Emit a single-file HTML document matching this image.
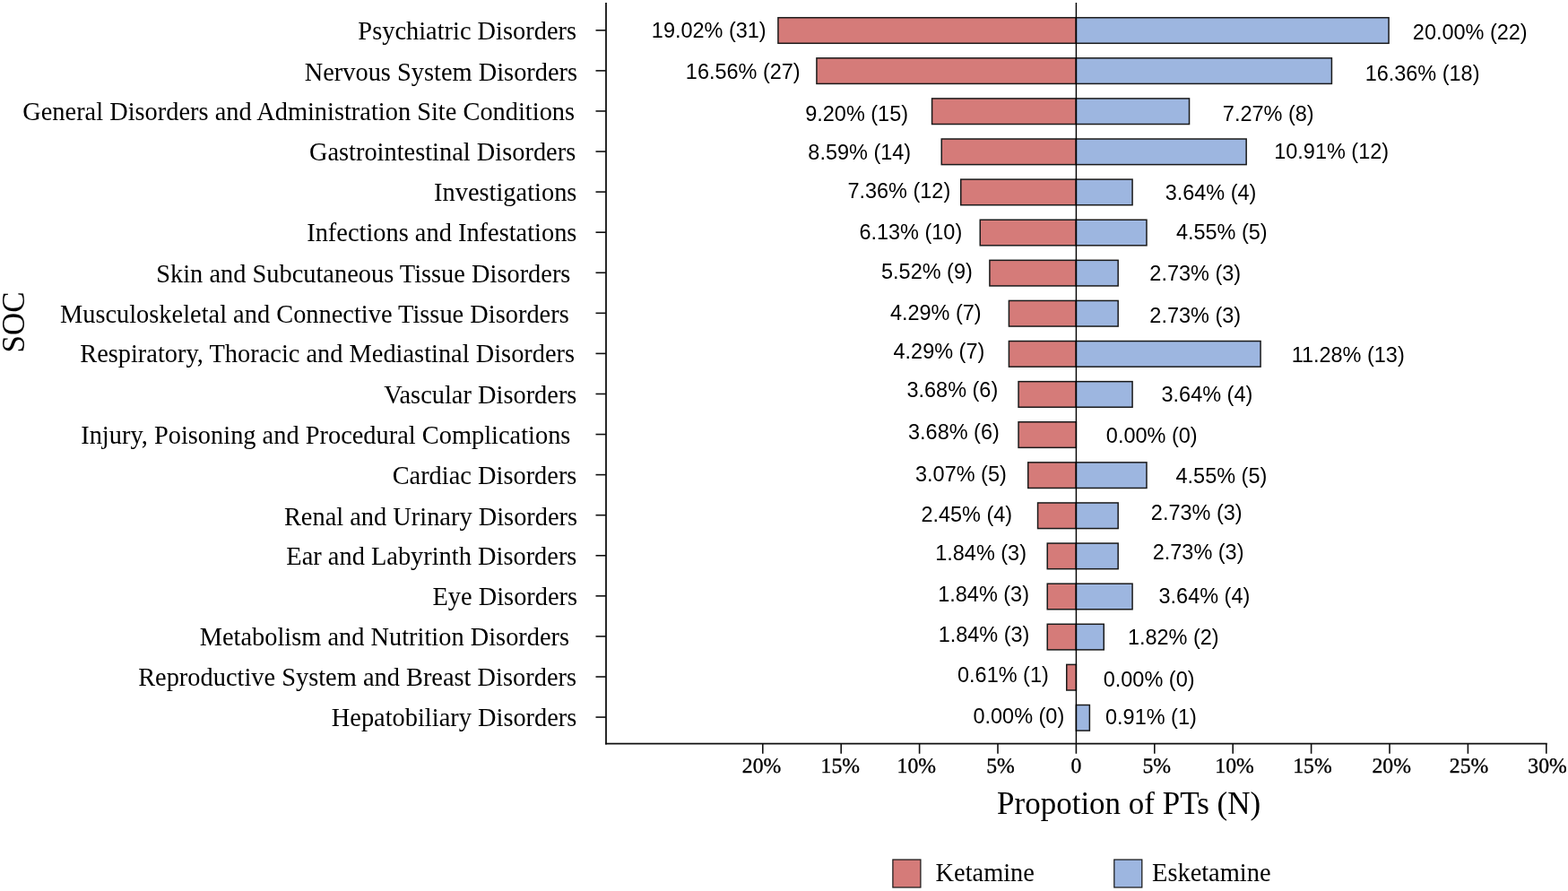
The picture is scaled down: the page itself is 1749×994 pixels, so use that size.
<!DOCTYPE html>
<html><head><meta charset="utf-8"><title>SOC chart</title>
<style>
html,body{margin:0;padding:0;background:#fff;}
body{width:1749px;height:994px;overflow:hidden;}
svg{display:block;}
text{fill:#000;}
.gp{text-rendering:geometricPrecision;}
.sa{font-family:"Liberation Sans",sans-serif;}
.se{font-family:"Liberation Serif",serif;}
</style></head>
<body>
<svg width="1749" height="994" viewBox="0 0 1749 994">
<rect x="0" y="0" width="1749" height="994" fill="#fff"/>
<rect x="867.93" y="19.70" width="332.47" height="28.6" fill="#D57B79" stroke="#1a1a1a" stroke-width="1.5"/>
<rect x="1200.40" y="19.70" width="348.65" height="28.6" fill="#9DB6E0" stroke="#1a1a1a" stroke-width="1.5"/>
<rect x="910.93" y="64.81" width="289.47" height="28.6" fill="#D57B79" stroke="#1a1a1a" stroke-width="1.5"/>
<rect x="1200.40" y="64.81" width="285.02" height="28.6" fill="#9DB6E0" stroke="#1a1a1a" stroke-width="1.5"/>
<rect x="1039.58" y="109.91" width="160.82" height="28.6" fill="#D57B79" stroke="#1a1a1a" stroke-width="1.5"/>
<rect x="1200.40" y="109.91" width="126.13" height="28.6" fill="#9DB6E0" stroke="#1a1a1a" stroke-width="1.5"/>
<rect x="1050.25" y="155.02" width="150.15" height="28.6" fill="#D57B79" stroke="#1a1a1a" stroke-width="1.5"/>
<rect x="1200.40" y="155.02" width="189.76" height="28.6" fill="#9DB6E0" stroke="#1a1a1a" stroke-width="1.5"/>
<rect x="1071.75" y="200.12" width="128.65" height="28.6" fill="#D57B79" stroke="#1a1a1a" stroke-width="1.5"/>
<rect x="1200.40" y="200.12" width="62.68" height="28.6" fill="#9DB6E0" stroke="#1a1a1a" stroke-width="1.5"/>
<rect x="1093.25" y="245.23" width="107.15" height="28.6" fill="#D57B79" stroke="#1a1a1a" stroke-width="1.5"/>
<rect x="1200.40" y="245.23" width="78.58" height="28.6" fill="#9DB6E0" stroke="#1a1a1a" stroke-width="1.5"/>
<rect x="1103.91" y="290.34" width="96.49" height="28.6" fill="#D57B79" stroke="#1a1a1a" stroke-width="1.5"/>
<rect x="1200.40" y="290.34" width="46.77" height="28.6" fill="#9DB6E0" stroke="#1a1a1a" stroke-width="1.5"/>
<rect x="1125.41" y="335.44" width="74.99" height="28.6" fill="#D57B79" stroke="#1a1a1a" stroke-width="1.5"/>
<rect x="1200.40" y="335.44" width="46.77" height="28.6" fill="#9DB6E0" stroke="#1a1a1a" stroke-width="1.5"/>
<rect x="1125.41" y="380.55" width="74.99" height="28.6" fill="#D57B79" stroke="#1a1a1a" stroke-width="1.5"/>
<rect x="1200.40" y="380.55" width="205.66" height="28.6" fill="#9DB6E0" stroke="#1a1a1a" stroke-width="1.5"/>
<rect x="1136.07" y="425.65" width="64.33" height="28.6" fill="#D57B79" stroke="#1a1a1a" stroke-width="1.5"/>
<rect x="1200.40" y="425.65" width="62.68" height="28.6" fill="#9DB6E0" stroke="#1a1a1a" stroke-width="1.5"/>
<rect x="1136.07" y="470.76" width="64.33" height="28.6" fill="#D57B79" stroke="#1a1a1a" stroke-width="1.5"/>
<rect x="1146.74" y="515.87" width="53.66" height="28.6" fill="#D57B79" stroke="#1a1a1a" stroke-width="1.5"/>
<rect x="1200.40" y="515.87" width="78.58" height="28.6" fill="#9DB6E0" stroke="#1a1a1a" stroke-width="1.5"/>
<rect x="1157.57" y="560.97" width="42.83" height="28.6" fill="#D57B79" stroke="#1a1a1a" stroke-width="1.5"/>
<rect x="1200.40" y="560.97" width="46.77" height="28.6" fill="#9DB6E0" stroke="#1a1a1a" stroke-width="1.5"/>
<rect x="1168.24" y="606.08" width="32.16" height="28.6" fill="#D57B79" stroke="#1a1a1a" stroke-width="1.5"/>
<rect x="1200.40" y="606.08" width="46.77" height="28.6" fill="#9DB6E0" stroke="#1a1a1a" stroke-width="1.5"/>
<rect x="1168.24" y="651.18" width="32.16" height="28.6" fill="#D57B79" stroke="#1a1a1a" stroke-width="1.5"/>
<rect x="1200.40" y="651.18" width="62.68" height="28.6" fill="#9DB6E0" stroke="#1a1a1a" stroke-width="1.5"/>
<rect x="1168.24" y="696.29" width="32.16" height="28.6" fill="#D57B79" stroke="#1a1a1a" stroke-width="1.5"/>
<rect x="1200.40" y="696.29" width="30.86" height="28.6" fill="#9DB6E0" stroke="#1a1a1a" stroke-width="1.5"/>
<rect x="1189.74" y="741.40" width="10.66" height="28.6" fill="#D57B79" stroke="#1a1a1a" stroke-width="1.5"/>
<rect x="1200.40" y="786.50" width="14.96" height="28.6" fill="#9DB6E0" stroke="#1a1a1a" stroke-width="1.5"/>
<line x1="1200.4" y1="3.0" x2="1200.4" y2="829.6" stroke="#000" stroke-width="1.4"/>
<line x1="676.0" y1="3.0" x2="676.0" y2="830.5" stroke="#111" stroke-width="1.8"/>
<line x1="675.1" y1="829.6" x2="1725.7" y2="829.6" stroke="#111" stroke-width="1.8"/>
<line x1="664.5" y1="33.80" x2="676.0" y2="33.80" stroke="#111" stroke-width="1.6"/>
<line x1="664.5" y1="78.88" x2="676.0" y2="78.88" stroke="#111" stroke-width="1.6"/>
<line x1="664.5" y1="123.95" x2="676.0" y2="123.95" stroke="#111" stroke-width="1.6"/>
<line x1="664.5" y1="169.03" x2="676.0" y2="169.03" stroke="#111" stroke-width="1.6"/>
<line x1="664.5" y1="214.10" x2="676.0" y2="214.10" stroke="#111" stroke-width="1.6"/>
<line x1="664.5" y1="259.18" x2="676.0" y2="259.18" stroke="#111" stroke-width="1.6"/>
<line x1="664.5" y1="304.26" x2="676.0" y2="304.26" stroke="#111" stroke-width="1.6"/>
<line x1="664.5" y1="349.33" x2="676.0" y2="349.33" stroke="#111" stroke-width="1.6"/>
<line x1="664.5" y1="394.41" x2="676.0" y2="394.41" stroke="#111" stroke-width="1.6"/>
<line x1="664.5" y1="439.48" x2="676.0" y2="439.48" stroke="#111" stroke-width="1.6"/>
<line x1="664.5" y1="484.56" x2="676.0" y2="484.56" stroke="#111" stroke-width="1.6"/>
<line x1="664.5" y1="529.64" x2="676.0" y2="529.64" stroke="#111" stroke-width="1.6"/>
<line x1="664.5" y1="574.71" x2="676.0" y2="574.71" stroke="#111" stroke-width="1.6"/>
<line x1="664.5" y1="619.79" x2="676.0" y2="619.79" stroke="#111" stroke-width="1.6"/>
<line x1="664.5" y1="664.86" x2="676.0" y2="664.86" stroke="#111" stroke-width="1.6"/>
<line x1="664.5" y1="709.94" x2="676.0" y2="709.94" stroke="#111" stroke-width="1.6"/>
<line x1="664.5" y1="755.02" x2="676.0" y2="755.02" stroke="#111" stroke-width="1.6"/>
<line x1="664.5" y1="800.09" x2="676.0" y2="800.09" stroke="#111" stroke-width="1.6"/>
<line x1="850.80" y1="829.6" x2="850.80" y2="840.8" stroke="#111" stroke-width="1.6"/>
<text class="se gp" x="849.50" y="861.5" stroke="#000" stroke-width="0.35" font-size="23.7" text-anchor="middle">20%</text>
<line x1="938.20" y1="829.6" x2="938.20" y2="840.8" stroke="#111" stroke-width="1.6"/>
<text class="se gp" x="937.30" y="861.5" stroke="#000" stroke-width="0.35" font-size="23.7" text-anchor="middle">15%</text>
<line x1="1025.60" y1="829.6" x2="1025.60" y2="840.8" stroke="#111" stroke-width="1.6"/>
<text class="se gp" x="1022.30" y="861.5" stroke="#000" stroke-width="0.35" font-size="23.7" text-anchor="middle">10%</text>
<line x1="1113.00" y1="829.6" x2="1113.00" y2="840.8" stroke="#111" stroke-width="1.6"/>
<text class="se gp" x="1116.00" y="861.5" stroke="#000" stroke-width="0.35" font-size="23.7" text-anchor="middle">5%</text>
<line x1="1200.40" y1="829.6" x2="1200.40" y2="840.8" stroke="#111" stroke-width="1.6"/>
<text class="se gp" x="1200.40" y="861.5" stroke="#000" stroke-width="0.35" font-size="23.7" text-anchor="middle">0</text>
<line x1="1287.80" y1="829.6" x2="1287.80" y2="840.8" stroke="#111" stroke-width="1.6"/>
<text class="se gp" x="1290.30" y="861.5" stroke="#000" stroke-width="0.35" font-size="23.7" text-anchor="middle">5%</text>
<line x1="1375.20" y1="829.6" x2="1375.20" y2="840.8" stroke="#111" stroke-width="1.6"/>
<text class="se gp" x="1377.00" y="861.5" stroke="#000" stroke-width="0.35" font-size="23.7" text-anchor="middle">10%</text>
<line x1="1462.60" y1="829.6" x2="1462.60" y2="840.8" stroke="#111" stroke-width="1.6"/>
<text class="se gp" x="1463.90" y="861.5" stroke="#000" stroke-width="0.35" font-size="23.7" text-anchor="middle">15%</text>
<line x1="1550.00" y1="829.6" x2="1550.00" y2="840.8" stroke="#111" stroke-width="1.6"/>
<text class="se gp" x="1552.20" y="861.5" stroke="#000" stroke-width="0.35" font-size="23.7" text-anchor="middle">20%</text>
<line x1="1637.40" y1="829.6" x2="1637.40" y2="840.8" stroke="#111" stroke-width="1.6"/>
<text class="se gp" x="1638.50" y="861.5" stroke="#000" stroke-width="0.35" font-size="23.7" text-anchor="middle">25%</text>
<line x1="1724.80" y1="829.6" x2="1724.80" y2="840.8" stroke="#111" stroke-width="1.6"/>
<text class="se gp" x="1726.00" y="861.5" stroke="#000" stroke-width="0.35" font-size="23.7" text-anchor="middle">30%</text>
<text x="643.00" y="43.60" class="se" font-size="28.4" text-anchor="end" xml:space="preserve">Psychiatric Disorders</text>
<text x="644.10" y="89.60" class="se" font-size="28.4" text-anchor="end" xml:space="preserve">Nervous System Disorders</text>
<text x="641.10" y="134.20" class="se" font-size="28.4" text-anchor="end" xml:space="preserve">General Disorders and Administration Site Conditions</text>
<text x="642.20" y="179.00" class="se" font-size="28.4" text-anchor="end" xml:space="preserve">Gastrointestinal Disorders</text>
<text x="643.40" y="224.20" class="se" font-size="28.4" text-anchor="end" xml:space="preserve">Investigations</text>
<text x="643.40" y="268.80" class="se" font-size="28.4" text-anchor="end" xml:space="preserve">Infections and Infestations</text>
<text x="643.50" y="314.80" class="se" font-size="28.4" text-anchor="end" xml:space="preserve">Skin and Subcutaneous Tissue Disorders </text>
<text x="641.80" y="359.60" class="se" font-size="28.4" text-anchor="end" xml:space="preserve">Musculoskeletal and Connective Tissue Disorders </text>
<text x="641.10" y="404.20" class="se" font-size="28.4" text-anchor="end" xml:space="preserve">Respiratory, Thoracic and Mediastinal Disorders</text>
<text x="643.40" y="449.60" class="se" font-size="28.4" text-anchor="end" xml:space="preserve">Vascular Disorders</text>
<text x="643.50" y="494.70" class="se" font-size="28.4" text-anchor="end" xml:space="preserve">Injury, Poisoning and Procedural Complications </text>
<text x="643.40" y="539.70" class="se" font-size="28.4" text-anchor="end" xml:space="preserve">Cardiac Disorders</text>
<text x="644.10" y="585.60" class="se" font-size="28.4" text-anchor="end" xml:space="preserve">Renal and Urinary Disorders</text>
<text x="643.40" y="629.80" class="se" font-size="28.4" text-anchor="end" xml:space="preserve">Ear and Labyrinth Disorders</text>
<text x="644.10" y="675.30" class="se" font-size="28.4" text-anchor="end" xml:space="preserve">Eye Disorders</text>
<text x="642.20" y="719.80" class="se" font-size="28.4" text-anchor="end" xml:space="preserve">Metabolism and Nutrition Disorders </text>
<text x="643.00" y="765.10" class="se" font-size="28.4" text-anchor="end" xml:space="preserve">Reproductive System and Breast Disorders</text>
<text x="643.40" y="810.10" class="se" font-size="28.4" text-anchor="end" xml:space="preserve">Hepatobiliary Disorders</text>
<text x="726.84" y="41.70" class="sa" font-size="23.47">19.02% (31)</text>
<text x="1575.83" y="44.00" class="sa" font-size="23.47">20.00% (22)</text>
<text x="764.84" y="87.80" class="sa" font-size="23.47">16.56% (27)</text>
<text x="1522.64" y="90.00" class="sa" font-size="23.47">16.36% (18)</text>
<text x="898.24" y="135.20" class="sa" font-size="23.47">9.20% (15)</text>
<text x="1363.83" y="135.40" class="sa" font-size="23.47">7.27% (8)</text>
<text x="901.34" y="177.80" class="sa" font-size="23.47">8.59% (14)</text>
<text x="1421.24" y="177.20" class="sa" font-size="23.47">10.91% (12)</text>
<text x="945.43" y="221.00" class="sa" font-size="23.47">7.36% (12)</text>
<text x="1299.66" y="222.60" class="sa" font-size="23.47">3.64% (4)</text>
<text x="958.43" y="267.00" class="sa" font-size="23.47">6.13% (10)</text>
<text x="1311.93" y="266.60" class="sa" font-size="23.47">4.55% (5)</text>
<text x="983.06" y="310.60" class="sa" font-size="23.47">5.52% (9)</text>
<text x="1282.33" y="312.70" class="sa" font-size="23.47">2.73% (3)</text>
<text x="992.93" y="356.60" class="sa" font-size="23.47">4.29% (7)</text>
<text x="1282.33" y="359.60" class="sa" font-size="23.47">2.73% (3)</text>
<text x="996.53" y="400.40" class="sa" font-size="23.47">4.29% (7)</text>
<text x="1440.64" y="403.50" class="sa" font-size="23.47">11.28% (13)</text>
<text x="1011.46" y="443.40" class="sa" font-size="23.47">3.68% (6)</text>
<text x="1295.56" y="448.00" class="sa" font-size="23.47">3.64% (4)</text>
<text x="1013.06" y="490.00" class="sa" font-size="23.47">3.68% (6)</text>
<text x="1233.86" y="493.80" class="sa" font-size="23.47">0.00% (0)</text>
<text x="1021.06" y="536.60" class="sa" font-size="23.47">3.07% (5)</text>
<text x="1311.53" y="538.90" class="sa" font-size="23.47">4.55% (5)</text>
<text x="1027.43" y="582.00" class="sa" font-size="23.47">2.45% (4)</text>
<text x="1283.83" y="579.60" class="sa" font-size="23.47">2.73% (3)</text>
<text x="1043.24" y="625.00" class="sa" font-size="23.47">1.84% (3)</text>
<text x="1285.73" y="624.20" class="sa" font-size="23.47">2.73% (3)</text>
<text x="1046.24" y="671.40" class="sa" font-size="23.47">1.84% (3)</text>
<text x="1292.56" y="673.20" class="sa" font-size="23.47">3.64% (4)</text>
<text x="1046.64" y="716.40" class="sa" font-size="23.47">1.84% (3)</text>
<text x="1257.94" y="718.70" class="sa" font-size="23.47">1.82% (2)</text>
<text x="1068.06" y="761.40" class="sa" font-size="23.47">0.61% (1)</text>
<text x="1230.76" y="765.50" class="sa" font-size="23.47">0.00% (0)</text>
<text x="1085.46" y="807.40" class="sa" font-size="23.47">0.00% (0)</text>
<text x="1233.06" y="808.00" class="sa" font-size="23.47">0.91% (1)</text>
<text x="1112.05" y="907.5" class="se" font-size="35.0">Propotion of PTs (N)</text>
<text transform="translate(26.5,359.5) rotate(-90)" x="0" y="0" class="se" font-size="35.0" text-anchor="middle">SOC</text>
<rect x="995.9" y="959.0" width="31" height="31" fill="#D57B79" stroke="#1a1a1a" stroke-width="1.25"/>
<rect x="1242.8" y="959.0" width="31" height="31" fill="#9DB6E0" stroke="#1a1a1a" stroke-width="1.25"/>
<text x="1043.55" y="983" class="se" font-size="28.4">Ketamine</text>
<text x="1285.05" y="983" class="se" font-size="28.4">Esketamine</text>
</svg>
</body></html>
